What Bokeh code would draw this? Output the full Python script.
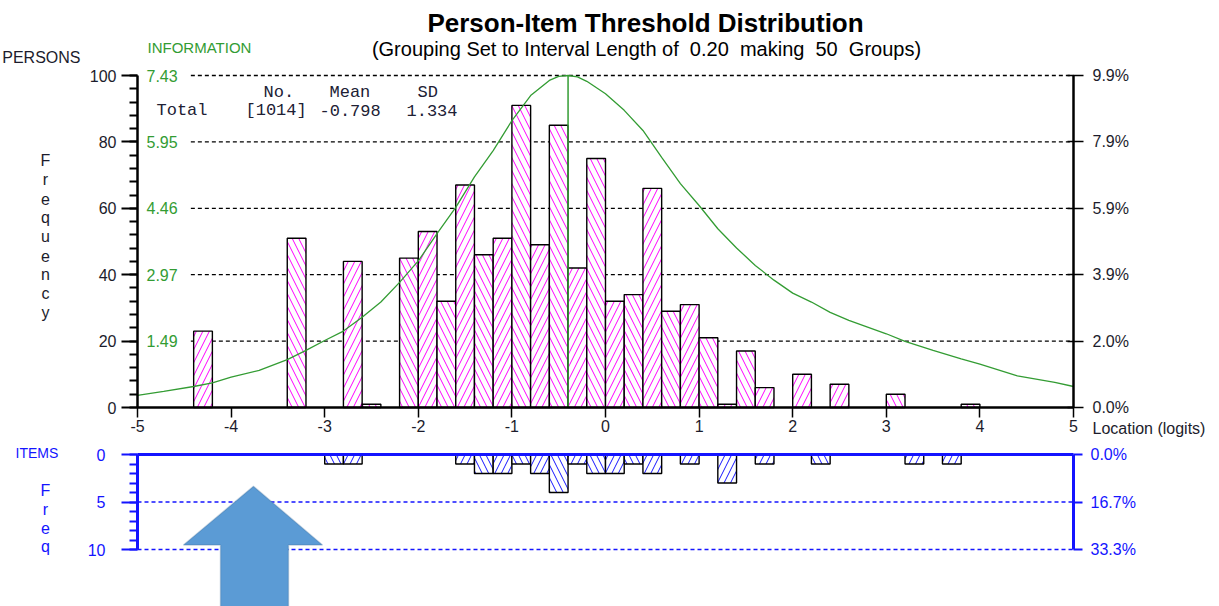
from bokeh.plotting import figure
from bokeh.models import Range1d, LinearAxis, FixedTicker, Label, PolyAnnotation, ColumnDataSource
from bokeh.layouts import column
from bokeh.embed import file_html
from bokeh.resources import INLINE

# ---------------- data ----------------
BIN_WIDTH = 0.2
LOC_MIN, LOC_MAX = -5.0, 5.0

person_bin_left = [-4.4, -3.4, -2.8, -2.6, -2.2, -2.0, -1.8, -1.6, -1.4, -1.2, -1.0, -0.8, -0.6, -0.4,
                   -0.2, 0.0, 0.2, 0.4, 0.6, 0.8, 1.0, 1.2, 1.4, 1.6, 2.0, 2.4, 3.0, 3.8]
person_count = [23, 51, 44, 1, 45, 53, 32, 67, 46, 51, 91, 49, 85, 42,
                75, 32, 34, 66, 29, 31, 21, 1, 17, 6, 10, 7, 4, 1]

item_bin_left = [-3.0, -2.8, -1.6, -1.4, -1.2, -1.0, -0.8, -0.6, -0.4, -0.2, 0.0, 0.2, 0.4, 0.8,
                 1.2, 1.6, 2.2, 3.2, 3.6]
item_count = [1, 1, 1, 2, 2, 1, 2, 4, 1, 2, 2, 1, 2, 1, 3, 1, 1, 1, 1]

info_x = [-5.0, -4.72, -4.4, -4.2, -4.0, -3.7, -3.4, -3.2, -3.0, -2.8, -2.6, -2.4, -2.2, -2.0, -1.8,
          -1.6, -1.4, -1.2, -1.0, -0.8, -0.6, -0.5, -0.4, -0.3, -0.2, 0.0, 0.2, 0.4, 0.6, 0.8, 1.0, 1.2,
          1.4, 1.6, 1.8, 2.0, 2.2, 2.4, 2.6, 2.8, 3.0, 3.2, 3.5, 3.8, 4.0, 4.4, 4.8, 5.0]
info_y = [0.27, 0.36, 0.47, 0.55, 0.68, 0.83, 1.07, 1.28, 1.50, 1.71, 2.02, 2.36, 2.80, 3.28, 3.89,
          4.48, 5.16, 5.75, 6.42, 6.98, 7.32, 7.41, 7.43, 7.40, 7.30, 7.02, 6.65, 6.20, 5.60, 5.01, 4.52,
          4.00, 3.57, 3.18, 2.85, 2.56, 2.36, 2.13, 1.95, 1.80, 1.65, 1.48, 1.28, 1.09, 0.97, 0.71, 0.56,
          0.47]
info_peak_loc = -0.4
info_max = 7.43

freq_ticks = [0, 20, 40, 60, 80, 100]
pct_labels = ["0.0%", "2.0%", "3.9%", "5.9%", "7.9%", "9.9%"]
info_tick_labels = ["1.49", "2.97", "4.46", "5.95", "7.43"]
x_ticks = [-5, -4, -3, -2, -1, 0, 1, 2, 3, 4, 5]
x_tick_labels = ["-5", "-4", "-3", "-2", "-1", "0", "1", "2", "3", "4", "5"]
item_ticks = [0, 5, 10]
item_pct_labels = ["0.0%", "16.7%", "33.3%"]

stats_header = ["No.", "Mean", "SD"]
stats_row = ["Total", "[1014]", "-0.798", "1.334"]

NB = "\u00a0"
title_text = "Person-Item Threshold Distribution"
subtitle_text = ("(Grouping Set to Interval Length of " + NB + "0.20 " + NB + "making " + NB + "50 "
                 + NB + "Groups)")

# ---------------- styles / layout ----------------
SANS = "Liberation Sans"
MONO = "Liberation Mono"
GREEN = "#339c33"
BLUE = "#1414ff"
DARK = "#1c1c2c"
MAGENTA = "#ff00ff"

W = 1215
X0_PX, X1_PX = 137, 1073            # pixel columns of logits -5 and 5
H1, Y0_PX1, Y100_PX1 = 440, 407, 75  # top panel canvas: rows of freq 0 and 100
H2, Y0_PX2, Y10_PX2 = 166, 14, 109   # bottom panel canvas: rows of item freq 0 and 10

ppx = (X1_PX - X0_PX) / (LOC_MAX - LOC_MIN)
x_lo = LOC_MIN - X0_PX / ppx
x_hi = LOC_MAX + (W - X1_PX) / ppx

ppy1 = (Y0_PX1 - Y100_PX1) / 100.0
y1_lo = -(H1 - Y0_PX1) / ppy1
y1_hi = 100 + Y100_PX1 / ppy1

ppy2 = (Y10_PX2 - Y0_PX2) / 10.0
y2_top = -Y0_PX2 / ppy2
y2_bot = (H2 - Y0_PX2) / ppy2


def hatch_for(left):
    k = int(round((left - LOC_MIN) / BIN_WIDTH))
    return "\\" if k % 2 == 0 else "/"


def lab(p, x, y, text, size="16px", color=DARK, align="left", font=SANS, style="normal"):
    p.add_layout(Label(x=x, y=y, text=text, x_units="canvas", y_units="canvas",
                       text_font=font, text_font_size=size, text_color=color,
                       text_align=align, text_baseline="middle", text_font_style=style))


def style_axis(a, color, lw, t_out, t_in, size="16px", standoff=5):
    a.axis_line_color = color
    a.axis_line_width = lw
    a.major_tick_line_color = color
    a.major_tick_out = t_out
    a.major_tick_in = t_in
    a.major_label_text_font = SANS
    a.major_label_text_font_size = size
    a.major_label_text_color = color if color != "black" else DARK
    a.major_label_standoff = standoff


# ---------------- top panel (persons) ----------------
p1 = figure(width=W, height=H1, x_range=Range1d(x_lo, x_hi), y_range=Range1d(y1_lo, y1_hi),
            output_backend="svg", toolbar_location=None,
            x_axis_location=None, y_axis_location=None,
            min_border_left=0, min_border_right=0, min_border_top=0, min_border_bottom=0)
p1.outline_line_color = None
p1.xgrid.visible = False
p1.ygrid.visible = False
p1.extra_y_ranges = {"info": Range1d(y1_lo * info_max / 100, y1_hi * info_max / 100)}

grid_vals = freq_ticks[1:]
p1.segment(x0=[-4.43] * len(grid_vals), y0=grid_vals, x1=[LOC_MAX] * len(grid_vals), y1=grid_vals,
           line_color="black", line_width=1.3, line_dash="4 3")

psrc = ColumnDataSource(dict(
    x=[l + BIN_WIDTH / 2 for l in person_bin_left],
    top=person_count,
    hatch=[hatch_for(l) for l in person_bin_left],
))
p1.vbar(x="x", top="top", bottom=0, width=BIN_WIDTH, source=psrc,
        fill_color="white", line_color="black", line_width=1.4,
        hatch_pattern="hatch", hatch_color=MAGENTA, hatch_scale=13, hatch_weight=1)

p1.line(info_x, info_y, y_range_name="info", line_color=GREEN, line_width=1.3)
p1.segment(x0=[info_peak_loc], y0=[0], x1=[info_peak_loc], y1=[info_max], y_range_name="info",
           line_color=GREEN, line_width=1.5)

ax = LinearAxis(fixed_location=0, bounds=(LOC_MIN, LOC_MAX), ticker=FixedTicker(ticks=x_ticks),
                major_label_overrides={t: s for t, s in zip(x_ticks, x_tick_labels)})
style_axis(ax, "black", 2.5, 10, 0, standoff=2)
ax.major_tick_line_width = 1.5
ax.minor_tick_line_color = None
p1.add_layout(ax, "below")

ay = LinearAxis(fixed_location=LOC_MIN, bounds=(0, 100),
                ticker=FixedTicker(ticks=freq_ticks, minor_ticks=list(range(0, 101, 4))))
style_axis(ay, "black", 2.5, 16, 0, standoff=5)
ay.minor_tick_line_color = "black"
ay.minor_tick_out = 8
ay.minor_tick_in = 0
ay.major_tick_line_width = 2
ay.minor_tick_line_width = 2
p1.add_layout(ay, "left")

ar = LinearAxis(fixed_location=LOC_MAX, bounds=(0, 100), ticker=FixedTicker(ticks=freq_ticks),
                major_label_overrides={t: s for t, s in zip(freq_ticks, pct_labels)})
style_axis(ar, "black", 2.5, 10, 6, standoff=9)
ar.major_tick_line_width = 1.5
ar.minor_tick_line_color = None
p1.add_layout(ar, "right")

lab(p1, 645, 22, title_text, size="26px", color="black", align="center", style="bold")
lab(p1, 646, 48, subtitle_text, size="20px", color="black", align="center")
lab(p1, 80, 57, "PERSONS", size="16px", align="right")
lab(p1, 147, 47, "INFORMATION", size="15px", color=GREEN)
for t, s in zip(grid_vals, info_tick_labels):
    lab(p1, 146, Y0_PX1 - t * ppy1, s, size="16px", color=GREEN)
for i, ch in enumerate("Frequency"):
    lab(p1, 45, 160 + 19 * i, ch, size="16px", align="center")
lab(p1, 1092, 428, "Location (logits)", size="16px")

for x, s in zip([263, 329, 417], stats_header):
    lab(p1, x, 92, s, size="17px", font=MONO, color="#202034")
for x, s in zip([156, 245, 319, 406], stats_row):
    lab(p1, x, 110, s, size="17px", font=MONO, color="#202034")

# ---------------- bottom panel (items) ----------------
p2 = figure(width=W, height=H2, x_range=p1.x_range, y_range=Range1d(y2_bot, y2_top),
            output_backend="svg", toolbar_location=None,
            x_axis_location=None, y_axis_location=None,
            min_border_left=0, min_border_right=0, min_border_top=0, min_border_bottom=0)
p2.outline_line_color = None
p2.xgrid.visible = False
p2.ygrid.visible = False

dash_vals = item_ticks[1:]
p2.segment(x0=[LOC_MIN] * len(dash_vals), y0=dash_vals, x1=[LOC_MAX] * len(dash_vals), y1=dash_vals,
           line_color=BLUE, line_width=1.3, line_dash="4 3")

isrc = ColumnDataSource(dict(
    x=[l + BIN_WIDTH / 2 for l in item_bin_left],
    top=item_count,
    hatch=[hatch_for(l) for l in item_bin_left],
))
p2.vbar(x="x", top="top", bottom=0, width=BIN_WIDTH, source=isrc,
        fill_color="white", line_color="black", line_width=1.4,
        hatch_pattern="hatch", hatch_color=BLUE, hatch_scale=13, hatch_weight=1)
p2.segment(x0=[LOC_MIN], y0=[0], x1=[LOC_MAX], y1=[0], line_color=BLUE, line_width=3)

by = LinearAxis(fixed_location=LOC_MIN, bounds=(0, 10),
                ticker=FixedTicker(ticks=item_ticks, minor_ticks=list(range(0, 11))))
style_axis(by, BLUE, 3, 16, 0, standoff=16)
by.minor_tick_line_color = BLUE
by.minor_tick_out = 8
by.minor_tick_in = 0
by.major_tick_line_width = 2
by.minor_tick_line_width = 2
p2.add_layout(by, "left")

br = LinearAxis(fixed_location=LOC_MAX, bounds=(0, 10), ticker=FixedTicker(ticks=item_ticks),
                major_label_overrides={t: s for t, s in zip(item_ticks, item_pct_labels)})
style_axis(br, BLUE, 3, 9, 0, standoff=8)
br.major_tick_line_width = 2
br.minor_tick_line_color = None
p2.add_layout(br, "right")

lab(p2, 15, 12, "ITEMS", size="14px", color=BLUE)
for y, ch in zip([50, 69, 87, 106], "Freq"):
    lab(p2, 45, y, ch, size="16px", color=BLUE, align="center")

arrow = PolyAnnotation(
    xs=[-3.761, -3.024, -3.387, -3.387, -4.113, -4.113, -4.509],
    ys=[3.35, 9.53, 9.53, 16.5, 16.5, 9.53, 9.53],
    xs_units="data", ys_units="data",
    fill_color="#5B9BD5", fill_alpha=1.0, line_color="#41719C", line_width=1.5)
p2.add_layout(arrow)

layout = column(p1, p2, spacing=0)
open("out.html", "w").write(file_html(layout, INLINE))
